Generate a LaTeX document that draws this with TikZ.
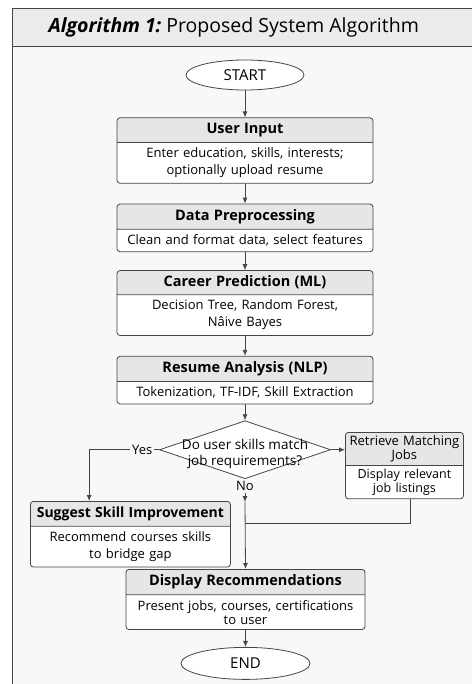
\documentclass[tikz,border=0pt]{standalone}
\usepackage{fontspec}
\setmainfont{Open Sans}
\usetikzlibrary{positioning,arrows.meta,shapes.geometric,shapes.multipart}
\definecolor{frameline}{HTML}{454545}
\definecolor{pagebg}{HTML}{F8F8F8}
\definecolor{titlebg}{HTML}{EBEBEB}
\definecolor{headbg}{HTML}{E6E6E6}
\newcommand{\boxhead}[1]{{\fontsize{14.5}{17}\selectfont\bfseries #1}}

\begin{document}
\begin{tikzpicture}[
    x=1pt, y=-1pt,
    node distance=20pt,
    stepbox/.style={rectangle split, rectangle split parts=2, draw=frameline, line width=0.8pt, rounded corners=3pt, rectangle split part fill={headbg,white}, text width=#1, align=center, inner xsep=2pt, inner ysep=5pt, font=\fontsize{13}{17}\selectfont},
    stepbox/.default=252pt,
    terminal/.style={ellipse, draw=frameline, line width=0.8pt, fill=white, minimum width=118pt, minimum height=30pt, inner sep=0pt, font=\fontsize{15}{17}\selectfont},
    decision/.style={diamond, draw=frameline, line width=0.8pt, fill=white, minimum width=171pt, minimum height=58pt, inner sep=0pt},
    dectext/.style={align=center, inner sep=0pt, font=\fontsize{13.5}{16}\selectfont},
    arr/.style={-{Latex[length=6pt,width=5pt]}, draw=frameline, line width=0.8pt},
    joinline/.style={draw=frameline, line width=0.8pt},
    edgelabel/.style={fill=pagebg, inner sep=2pt, font=\fontsize{13}{15}\selectfont}
]
    \useasboundingbox (0,0) rectangle (471,684);

    % Frame and title bar
    \draw[frameline, line width=0.8pt, fill=pagebg] (12,8) rectangle (490,700);
    \draw[frameline, line width=0.8pt, fill=titlebg] (12,8) rectangle (490,46);
    \node[anchor=west, font=\fontsize{19.5}{22}\selectfont] (title) at (45,27) {\textbf{\itshape Algorithm 1:}\ Proposed System Algorithm};

    % Main column
    \node[terminal] (start) at (245,75) {START};
    \node[stepbox, below=27pt of start] (input) {\boxhead{User Input}\nodepart{two}Enter education, skills, interests;\\optionally upload resume};
    \node[stepbox, below=of input] (prep) {\boxhead{Data Preprocessing}\nodepart{two}Clean and format data, select features};
    \node[stepbox, below=18pt of prep] (predict) {\boxhead{Career Prediction (ML)}\nodepart{two}Decision Tree, Random Forest,\\Nâive Bayes};
    \node[stepbox, below=of predict] (resume) {\boxhead{Resume Analysis (NLP)}\nodepart{two}Tokenization, TF-IDF, Skill Extraction};

    % Decision
    \node[decision, below=16pt of resume] (match) {};
    \node[dectext] (matchtext) at ([yshift=-4pt]match.center) {Do user skills match\\job requirements?};

    % Branches
    \node[stepbox=114pt, inner ysep=3pt, font=\fontsize{12.5}{14}\selectfont, anchor=north west] (retrieve) at (345,432) {{\fontsize{13}{15}\selectfont Retrieve Matching\\Jobs}\nodepart{two}Display relevant\\job listings};
    \node[stepbox=196pt, anchor=north west] (suggest) at (30,501) {{\fontsize{14}{17}\selectfont\bfseries Suggest Skill Improvement}\nodepart{two}Recommend courses skills\\to bridge gap};
    \node[stepbox=235pt, font=\fontsize{13}{14}\selectfont, anchor=north] (display) at (245.5,569) {\boxhead{Display Recommendations}\nodepart{two}Present jobs, courses, certifications\\to user};
    \node[terminal, minimum width=129pt, minimum height=32pt, below=17pt of display] (end) {END};

    \coordinate (noend) at (245,502);
    \coordinate (merge) at (245,523);

    % Connections
    \draw[arr] (start) -- (input);
    \draw[arr] (input) -- (prep);
    \draw[arr] (prep) -- (predict);
    \draw[arr] (predict) -- (resume);
    \draw[arr] (resume) -- (match);
    \draw[arr] (match.east) -- (match.east -| retrieve.west);
    \draw[arr] (match.west) -- node[edgelabel, pos=0.24] (yes) {Yes} ++(-70,0) coordinate (yesbend) -- (yesbend |- suggest.north);
    \draw[arr] (match.south) -- node[edgelabel, pos=0.3] (no) {No} (noend);
    \draw[arr] (noend) -- (display.north);
    \draw[joinline] ([xshift=6pt]retrieve.south) |- (merge);
    \draw[arr] (display) -- (end);
\end{tikzpicture}
\end{document}
